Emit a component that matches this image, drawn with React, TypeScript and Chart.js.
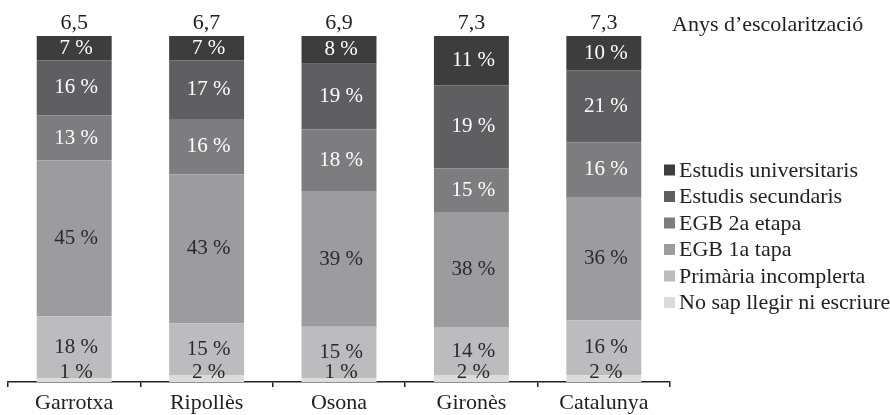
import React, { useEffect, useRef } from "react";
import { Chart, registerables } from "chart.js";

Chart.register(...registerables);

const categories = ["Garrotxa", "Ripollès", "Osona", "Gironès", "Catalunya"];
const years = ["6,5", "6,7", "6,9", "7,3", "7,3"];

// Printed percentage labels
const noSap = [1, 2, 1, 2, 2];
const primaria = [18, 15, 15, 14, 16];
const egb1 = [45, 43, 39, 38, 36];
const egb2 = [13, 16, 18, 15, 16];
const secundaris = [16, 17, 19, 19, 21];
const universitaris = [7, 7, 8, 11, 10];

// Segment heights as drawn in the picture (share of the column)
const noSapH = [1, 2, 1, 2.0, 2];
const primariaH = [18, 15, 15, 13.9, 16];
const egb1H = [45, 43, 39, 33.2, 36];
const egb2H = [13, 16, 18, 12.7, 16];
const secundarisH = [16, 17, 19, 24.0, 21];
const universitarisH = [7, 7, 8, 14.2, 10];

const seriesLabels = [
  "No sap llegir ni escriure",
  "Primària incomplerta",
  "EGB 1a tapa",
  "EGB 2a etapa",
  "Estudis secundaris",
  "Estudis universitaris",
];
const legendTitle = "Anys d’escolarització";

const FONT = "'Liberation Serif', 'Times New Roman', serif";
const colors = ["#dcdcdd", "#bcbcbe", "#9c9c9e", "#7d7d7f", "#5f5f61", "#3d3d3d"];
const labelColors = ["#2a2a2a", "#2a2a2a", "#2a2a2a", "#ffffff", "#ffffff", "#ffffff"];

const series = [noSap, primaria, egb1, egb2, secundaris, universitaris];
const heights = [noSapH, primariaH, egb1H, egb2H, secundarisH, universitarisH];

const labelsPlugin = {
  id: "customLabels",
  afterDatasetsDraw(chart: any) {
    const ctx = chart.ctx;
    ctx.save();
    ctx.font = `21px ${FONT}`;
    ctx.textAlign = "center";
    ctx.textBaseline = "middle";
    chart.data.datasets.forEach((ds: any, di: number) => {
      const meta = chart.getDatasetMeta(di);
      meta.data.forEach((el: any, i: number) => {
        const v = series[di][i];
        const center = (el.y + el.base) / 2;
        const y = Math.min(center, el.base - 10);
        ctx.fillStyle = labelColors[di];
        ctx.fillText(`${v} %`, el.x + 2, y);
      });
    });
    const lastMeta = chart.getDatasetMeta(chart.data.datasets.length - 1);
    ctx.font = `22px ${FONT}`;
    ctx.fillStyle = "#222";
    lastMeta.data.forEach((el: any, i: number) => {
      ctx.fillText(years[i], el.x, chart.chartArea.top - 13);
    });
    ctx.restore();
  },
  afterDraw(chart: any) {
    const ctx = chart.ctx;
    ctx.save();
    ctx.font = `22px ${FONT}`;
    ctx.textBaseline = "middle";
    ctx.textAlign = "left";
    ctx.fillStyle = "#222";
    ctx.fillText(legendTitle, 672, 25);
    const n = chart.data.datasets.length;
    for (let k = 0; k < n; k++) {
      const di = n - 1 - k;
      const ds = chart.data.datasets[di];
      const y = 170 + k * 26.5;
      ctx.fillStyle = ds.backgroundColor;
      ctx.fillRect(664, y - 5.5, 11, 11);
      ctx.fillStyle = "#222";
      ctx.fillText(ds.label, 679, y + 1);
    }
    ctx.restore();
  },
};

export default function App() {
  const ref = useRef<HTMLCanvasElement>(null);
  useEffect(() => {
    // 100 % stacked: each column is shown as shares of its own total
    const totals = categories.map((_, i) => heights.reduce((s, d) => s + d[i], 0));
    const chart = new Chart(ref.current!, {
      type: "bar",
      data: {
        labels: categories,
        datasets: heights.map((d, i) => ({
          label: seriesLabels[i],
          data: d.map((v, j) => (v / totals[j]) * 100),
          backgroundColor: colors[i],
          borderWidth: 0,
          categoryPercentage: 0.566,
          barPercentage: 1,
        })),
      },
      options: {
        animation: false,
        responsive: true,
        maintainAspectRatio: false,
        layout: { padding: { left: 8, right: 220, top: 36, bottom: 0 } },
        plugins: { legend: { display: false }, tooltip: { enabled: false } },
        scales: {
          x: {
            stacked: true,
            afterFit: (s: any) => {
              s.height = 33;
            },
            grid: {
              display: true,
              drawOnChartArea: false,
              drawTicks: true,
              tickLength: 5,
              color: "#222",
              lineWidth: 1.5,
              offset: true,
            },
            border: { display: true, color: "#222", width: 1.5 },
            ticks: { font: { family: FONT, size: 22 }, color: "#222", padding: 3 },
          },
          y: { stacked: true, display: false, min: 0, max: 100 },
        },
      },
      plugins: [labelsPlugin],
    });
    return () => chart.destroy();
  }, []);
  return (
    <div style={{ position: "fixed", left: 0, top: 0, width: 890, height: 415 }}>
      <canvas ref={ref} />
    </div>
  );
}
